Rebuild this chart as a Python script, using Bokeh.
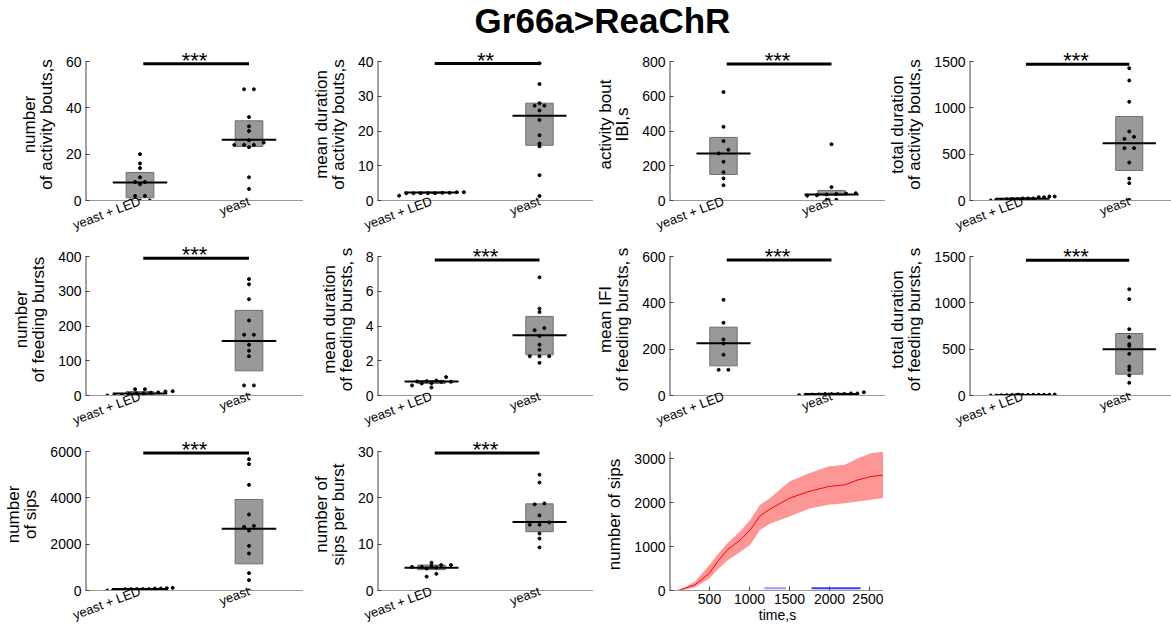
import numpy as np
from bokeh.plotting import figure
from bokeh.layouts import gridplot, column
from bokeh.models import Div, Label, FixedTicker, Range1d
from bokeh.embed import file_html
from bokeh.resources import INLINE

FONT = "Liberation Sans"
title_text = "Gr66a>ReaChR"
categories = ["yeast + LED", "yeast"]

# ---- panel 1: number of activity bouts
act_n_led = [20, 16, 14, 10, 8, 8, 7, 2, 2, 0, 0, 0]
act_n_yeast = [48, 48, 36, 32, 30, 26, 25, 24, 24, 24, 23, 10, 5]
act_n_box = [(1.2, 12.1), (23.3, 34.4)]
act_n_med = [7.8, 26.2]

# ---- panel 2: mean duration of activity bouts
act_dur_led = [2.2, 2.2, 1.4, 2.4, 2.4, 2.1, 2.1, 2.1, 2.1, 2.1]
act_dur_yeast = [39.5, 33.5, 28.0, 27.3, 27.3, 25.9, 23.2, 18.8, 16.4, 15.6, 7.3, 1.3]
act_dur_box = [(2.1, 2.4), (15.9, 28.0)]
act_dur_med = [2.3, 24.4]

# ---- panel 3: activity bout IBI
ibi_led = [624, 424, 342, 292, 271, 223, 163, 127, 88]
ibi_yeast = [324, 77, 42, 40, 38, 35, 30, 28, 4, 4]
ibi_box = [(150, 363), (31, 58)]
ibi_med = [271, 35]

# ---- panel 4: total duration of activity bouts
act_tot_led = [14, 7, 14, 22, 43, 36, 43, 22, 14, 7, 22, 36, 0]
act_tot_yeast = [1428, 1295, 1065, 745, 687, 665, 565, 565, 410, 237, 187, 7]
act_tot_box = [(10, 30), (324, 906)]
act_tot_med = [18, 619]

# ---- panel 5: number of feeding bursts
fb_n_led = [0, 12.5, 11.5, 9, 2, 18, 18, 4, 6, 6, 2, 8]
fb_n_yeast = [335, 320, 277, 216, 175, 175, 146, 129, 113, 29, 29, 0]
fb_n_box = [(3, 11.5), (71, 245)]
fb_n_med = [6, 157]

# ---- panel 6: mean duration of feeding bursts
fb_dur_led = [0.86, 0.81, 0.71, 1.06, 0.46, 0.79, 0.79, 0.69, 0.58, 0.83]
fb_dur_yeast = [6.8, 5.0, 4.8, 3.88, 3.76, 3.43, 2.92, 2.63, 2.26, 2.26, 2.26, 1.88]
fb_dur_box = [(0.69, 0.86), (2.34, 4.55)]
fb_dur_med = [0.8, 3.47]

# ---- panel 7: mean IFI of feeding bursts
ifi_led = [413, 314, 242, 224, 176, 111, 111]
ifi_yeast = [9, 7, 1.4, 3, 4, 4, 6, 9, 14, 6, 6]
ifi_box = [(128, 295), (3, 10)]
ifi_med = [226, 6]

# ---- panel 8: total duration of feeding bursts
fb_tot_led = [0, 6, 6, 8, 8, 10, 8, 8, 6, 6, 4, 3, 0]
fb_tot_yeast = [1147, 1040, 716, 630, 554, 536, 450, 313, 277, 216, 137, 0]
fb_tot_box = [(3, 9), (230, 669)]
fb_tot_med = [6, 500]

# ---- panel 9: number of sips
sips_led = [57, 29, 57, 86, 100, 115, 57, 29, 57, 57, 86, 0]
sips_yeast = [5669, 5453, 4561, 3281, 2791, 2748, 2590, 1928, 1597, 748, 446, 0]
sips_box = [(40, 90), (1151, 3928)]
sips_med = [60, 2662]

# ---- panel 10: number of sips per burst
spb_led = [6.0, 5.5, 5.5, 5.3, 5.1, 5.1, 4.95, 4.75, 3.6, 3.0]
spb_yeast = [25.0, 23.3, 18.8, 18.6, 16.2, 14.7, 14.2, 14.2, 12.3, 11.2, 9.3]
spb_box = [(4.5, 5.5), (12.7, 18.7)]
spb_med = [4.9, 14.8]

# ---- panel 11: cumulative number of sips over time
time_s = [100, 133, 317, 500, 602, 724, 887, 1010, 1132, 1254, 1499, 1743, 1988, 2192, 2355, 2518, 2700]
sips_mean = [0, 15, 129, 394, 659, 924, 1152, 1379, 1697, 1848, 2098, 2250, 2364, 2402, 2515, 2591, 2629]
sips_upper = [0, 16, 200, 583, 820, 1076, 1350, 1606, 1947, 2098, 2477, 2667, 2818, 2856, 3008, 3121, 3160]
sips_lower = [0, 0, 70, 280, 480, 682, 880, 1038, 1379, 1515, 1682, 1856, 1947, 1985, 2023, 2061, 2114]
sig_light_x = [1185, 1458]
sig_dark_x = [1776, 2388]
sig_line_y = 53
time_ymax = 3160

ylabels = [
    "number\nof activity bouts,s", "mean duration\nof activity bouts,s",
    "activity bout\nIBI,s", "total duration\nof activity bouts,s",
    "number\nof feeding bursts", "mean duration\nof feeding bursts, s",
    "mean IFI\nof feeding bursts, s", "total duration\nof feeding bursts, s",
    "number\nof sips", "number of\nsips per burst",
]
ymaxes = [60, 40, 800, 1500, 400, 8, 600, 1500, 6000, 30]
ytick_steps = [20, 10, 200, 500, 100, 2, 200, 500, 2000, 10]
sig_ys = [59, 39.4, 785, 1470, 395, 7.8, 585, 1460, 5940, 29.7]
sig_texts = ["***", "**", "***", "***", "***", "***", "***", "***", "***", "***"]

panels = [
    (act_n_led, act_n_yeast, act_n_box, act_n_med),
    (act_dur_led, act_dur_yeast, act_dur_box, act_dur_med),
    (ibi_led, ibi_yeast, ibi_box, ibi_med),
    (act_tot_led, act_tot_yeast, act_tot_box, act_tot_med),
    (fb_n_led, fb_n_yeast, fb_n_box, fb_n_med),
    (fb_dur_led, fb_dur_yeast, fb_dur_box, fb_dur_med),
    (ifi_led, ifi_yeast, ifi_box, ifi_med),
    (fb_tot_led, fb_tot_yeast, fb_tot_box, fb_tot_med),
    (sips_led, sips_yeast, sips_box, sips_med),
    (spb_led, spb_yeast, spb_box, spb_med),
]

DATA_H = 139                 # pixel height of the [0, ymax] part of each frame
EXT = 13                     # frame pixels above ymax (room for the stars)
BOT = [43, 43, 42]           # bottom border per row
LEFT = [85, 74, 74, 74]      # left border per column
FRAME_W = [218, 216, 216, 213]
AXIS_GREY = "#444444"


def swarm(values, center, ymax):
    """Spread points that share (nearly) the same value horizontally."""
    vals = np.asarray(values, dtype=float)
    order = np.argsort(vals)
    binw = ymax / 30.0
    xs = np.zeros(len(vals))
    bins = {}
    for i in order:
        bins.setdefault(int(vals[i] // binw), []).append(i)
    for members in bins.values():
        n = len(members)
        step = 0.09 if n <= 3 else min(0.09, 0.6 / (n - 1))
        for k, i in enumerate(members):
            xs[i] = center + (k - (n - 1) / 2.0) * step
    return xs, vals


def base_figure(row, col, x_range, ymax):
    fh = DATA_H + EXT
    yend = ymax * fh / DATA_H
    p = figure(frame_width=FRAME_W[col], frame_height=fh,
               x_range=x_range, y_range=Range1d(0, yend),
               output_backend="svg", toolbar_location=None,
               min_border_left=LEFT[col], min_border_right=0,
               min_border_top=0, min_border_bottom=BOT[row])
    p.xgrid.visible = False
    p.ygrid.visible = False
    p.outline_line_color = None
    p.background_fill_color = "white"
    p.border_fill_color = None
    for ax in (p.xaxis, p.yaxis):
        ax.major_label_text_font = FONT
        ax.major_label_text_font_size = "14px"
        ax.major_label_text_color = "black"
        ax.axis_label_text_font = FONT
        ax.axis_label_text_font_style = "normal"
        ax.axis_label_text_color = "black"
        ax.minor_tick_line_color = None
    p.yaxis.axis_label_text_font_size = "17px"
    p.yaxis.axis_label_text_line_height = 0.9
    p.yaxis.major_tick_line_color = AXIS_GREY
    p.yaxis.major_tick_in = 4
    p.yaxis.major_tick_out = 0
    p.yaxis.major_label_standoff = 4
    p.yaxis.axis_label_standoff = 7
    p.xaxis.axis_line_color = "#999999"
    # y axis line only up to the top tick (the frame continues above it)
    p.yaxis.axis_line_color = None
    p.segment(x0=x_range.start, x1=x_range.start, y0=0, y1=ymax,
              line_color=AXIS_GREY, line_width=2)
    return p


def make_panel(i, row, col):
    led, yst, box, med = panels[i]
    ymax = ymaxes[i]
    p = base_figure(row, col, Range1d(0.5, 2.5), ymax)
    centers = [1, 2]
    for g, (vals, c) in enumerate(zip([led, yst], centers)):
        lo, hi = box[g]
        p.quad(left=c - 0.127, right=c + 0.127, bottom=lo, top=hi,
               fill_color="#999999", line_color="#6e6e6e", line_width=1)
        p.segment(x0=c - 0.25, x1=c + 0.25, y0=med[g], y1=med[g],
                  line_color="black", line_width=2)
        xs, ys = swarm(vals, c, ymax)
        p.scatter(xs, ys, size=3, color="black", marker="circle")
    p.xaxis.ticker = FixedTicker(ticks=centers)
    p.xaxis.major_label_overrides = {1: categories[0], 2: categories[1]}
    p.xaxis.major_label_orientation = 0.36
    p.xaxis.major_label_text_font_size = "13px"
    p.xaxis.major_tick_line_color = None
    p.xaxis.major_tick_out = 0
    p.xaxis.major_tick_in = 0
    p.xaxis.major_label_standoff = 0
    p.yaxis.ticker = FixedTicker(ticks=list(np.arange(0, ymax + 1e-9, ytick_steps[i])))
    p.yaxis.axis_label = ylabels[i]
    # significance bar and stars
    p.segment(x0=1.03, x1=2.0, y0=sig_ys[i], y1=sig_ys[i], line_color="black", line_width=3)
    p.add_layout(Label(x=1.5, y=sig_ys[i], text=sig_texts[i], text_align="center",
                       text_baseline="middle", y_offset=3.5,
                       text_font=FONT, text_font_size="22px", text_color="black"))
    return p


figs = []
for r in range(3):
    row = []
    for c in range(4):
        idx = r * 4 + c
        row.append(make_panel(idx, r, c) if idx < 10 else None)
    figs.append(row)

# line panel (same borders as its row/column neighbours)
p11 = base_figure(2, 2, Range1d(0, 2700), time_ymax)
p11.varea(x=time_s, y1=sips_lower, y2=sips_upper, fill_color="#ff9696", fill_alpha=1.0)
p11.line(time_s, sips_mean, line_color="#ff0000", line_width=1)
p11.line(sig_light_x, [sig_line_y, sig_line_y], line_color="#9a9aff", line_width=2)
p11.line(sig_dark_x, [sig_line_y, sig_line_y], line_color="#3c3cff", line_width=2)
p11.xaxis.ticker = FixedTicker(ticks=[500, 1000, 1500, 2000, 2500])
p11.yaxis.ticker = FixedTicker(ticks=[0, 1000, 2000, 3000])
p11.xaxis.axis_label = "time,s"
p11.xaxis.axis_label_text_font_size = "14px"
p11.xaxis.axis_label_standoff = 0
p11.xaxis.major_label_standoff = 3
p11.xaxis.major_tick_in = 4
p11.xaxis.major_tick_out = 0
p11.xaxis.major_tick_line_color = AXIS_GREY
p11.yaxis.axis_label = "number of sips"
figs[2][2] = p11

grid = gridplot(figs, toolbar_location=None)

title = Div(text=title_text, render_as_text=True, width=1137, height=48,
            margin=(0, 0, 0, 34),
            styles={"font-family": FONT, "font-size": "35px", "font-weight": "bold",
                    "text-align": "center", "line-height": "42px", "color": "black"})

layout = column(title, grid, spacing=0)

with open("out.html", "w") as f:
    f.write(file_html(layout, INLINE, title_text))
